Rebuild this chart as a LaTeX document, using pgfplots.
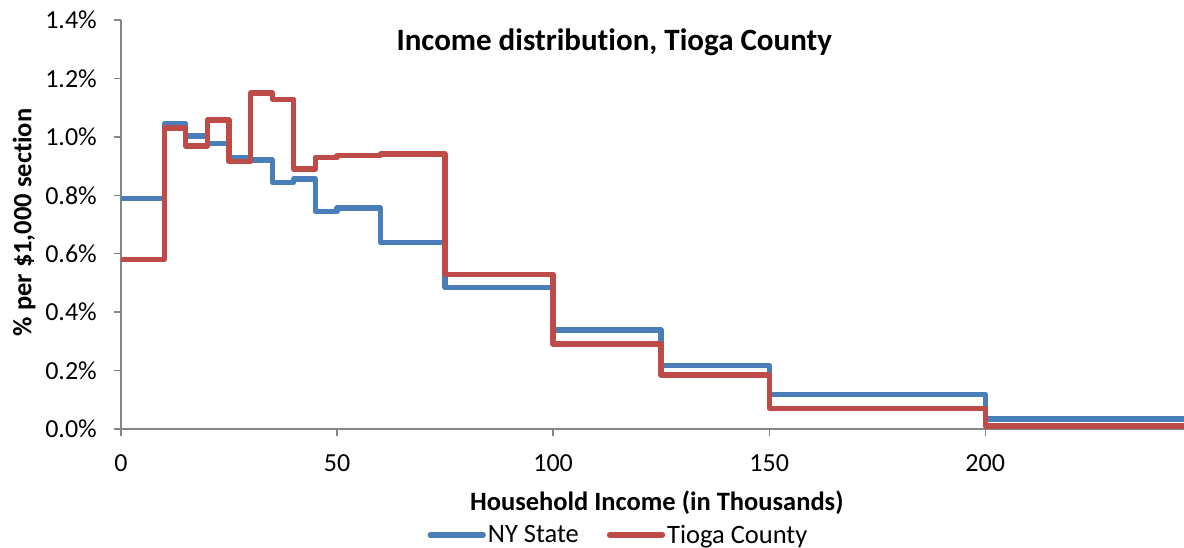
\documentclass[border=0pt]{standalone}
\usepackage{pgfplots}
\pgfplotsset{compat=1.18}
\usepackage{fontspec}
\setmainfont[Ligatures=NoCommon]{Carlito}
\definecolor{nyblue}{HTML}{4A7EBB}
\definecolor{tiored}{HTML}{BE4B48}
\definecolor{axgray}{HTML}{868686}
\begin{document}
\begin{tikzpicture}
\begin{axis}[
  scale only axis,
  width=1063pt, height=409pt,
  xmin=0, xmax=246, ymin=0, ymax=1.4,
  axis x line*=bottom, axis y line*=left,
  axis line style={axgray, line width=1.3pt},
  xtick={0,50,100,150,200},
  ytick={0,0.2,0.4,0.6,0.8,1.0,1.2,1.4},
  tick align=outside,
  major tick length=7pt,
  tick style={axgray, line width=1.3pt},
  /pgf/number format/assume math mode=true,
  ticklabel style={font=\fontsize{26}{30}\selectfont},
  yticklabel={\pgfmathprintnumber[fixed,fixed zerofill,precision=1]{\tick}\%},
  yticklabel style={anchor=east, inner sep=0pt, xshift=-17pt},
  xticklabel style={anchor=center, inner sep=0pt, yshift=-27pt},
  xlabel={Household Income (in Thousands)},
  xlabel style={font=\bfseries\fontsize{26.5}{30}\selectfont, at={(axis description cs:0.504,-0.181)}, anchor=center},
  ylabel={\% per \$1,000 sect\kern0pt ion},
  ylabel style={font=\bfseries\fontsize{26.5}{30}\selectfont, at={(axis description cs:-0.091,0.505)}, anchor=center, rotate=0},
  legend columns=2,
  legend style={draw=none, fill=none, at={(axis description cs:0.468,-0.259)}, anchor=center,
    font=\fontsize{26.5}{30}\selectfont, inner sep=0pt,
    /tikz/every even column/.append style={column sep=26pt}},
  legend image code/.code={\draw[#1, line cap=round] (0pt,0pt) -- (53pt,0pt);},
  clip=false,
]
\addplot[const plot, nyblue, line width=5.3pt, line join=round] coordinates {
(0,0.788) (10,1.045) (15,1.003) (20,0.978) (25,0.930) (30,0.921) (35,0.844) (40,0.856)
(45,0.744) (50,0.756) (60,0.638) (75,0.485) (100,0.339) (125,0.217) (150,0.119)
(200,0.034) (246,0.034)};
\addlegendentry{NY State}
\addplot[const plot, tiored, line width=5.3pt, line join=round] coordinates {
(0,0.579) (10,1.030) (15,0.969) (20,1.058) (25,0.916) (30,1.150) (35,1.129) (40,0.890)
(45,0.930) (50,0.936) (60,0.941) (75,0.530) (100,0.291) (125,0.185) (150,0.071)
(200,0.010) (246,0.010)};
\addlegendentry{Tioga County}
\node[font=\bfseries\fontsize{31}{35}\selectfont, anchor=center] at (axis description cs:0.464,0.945) {Income distribut\kern0pt ion, Tioga County};
\end{axis}
\pgfresetboundingbox
\path[use as bounding box] ([shift={(-121pt,-119pt)}]current axis.south west) rectangle ([shift={(0pt,20pt)}]current axis.north east);
\end{tikzpicture}
\end{document}
